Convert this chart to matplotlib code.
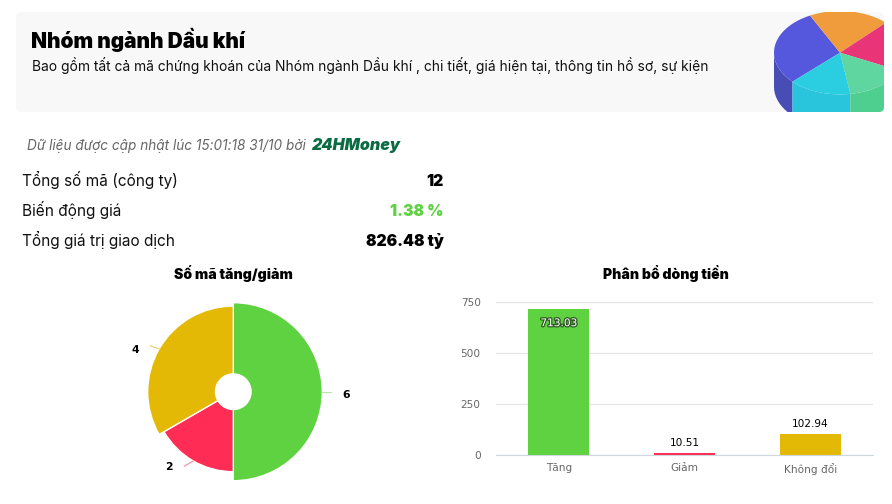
import numpy as np
import matplotlib
matplotlib.use('Agg')
import matplotlib.pyplot as plt
from matplotlib.patches import FancyBboxPatch, Polygon, Wedge, Circle
import matplotlib.patheffects as pe

plt.rcParams['font.family'] = ['Inter', 'Noto Sans', 'DejaVu Sans']

W, H = 892, 504

# stock counts (pie)
pie_labels = ['6', '2', '4']
pie_counts = [6, 2, 4]
pie_radius = [89, 80, 85.6]
pie_colors = ['#5fd242', '#ff2d55', '#e3b905']
pie_hints = ['#b5e8a6', '#f08aa0', '#eacb6a']

# money flow (bars)
bar_cats = ['Tăng', 'Giảm', 'Không đổi']
bar_vals = [713.03, 10.51, 102.94]
bar_colors = ['#5fd242', '#ff2d55', '#e3b905']
y_ticks = [0, 250, 500, 750]

# summary table
rows = ['Tổng số mã (công ty)', 'Biến động giá', 'Tổng giá trị giao dịch']
row_vals = ['12', '1.38 %', '826.48 tỷ']
row_colors = ['black', '#5fd242', 'black']

fig = plt.figure(figsize=(W / 100, H / 100), dpi=100)

# whole figure axes in pixel coords, y going down
bg = fig.add_axes([0, 0, 1, 1])
bg.set_xlim(0, W)
bg.set_ylim(H, 0)
bg.axis('off')

panel = FancyBboxPatch((19, 15), 862, 94, boxstyle='round,pad=3,rounding_size=5', fc='#f8f8f8', ec='none')
bg.add_patch(panel)


def sector(t1, t2, color, drop=0):
    # piece of the header picture: drop=0 is the top face, drop>0 the side wall
    cx, cy, rx, ry = 840, 52.7, 66, 41.7
    t = np.radians(np.linspace(t1, t2, 50))
    x = cx + rx * np.cos(t)
    y = cy + ry * np.sin(t)
    if drop:
        pts = np.r_[np.c_[x, y], np.c_[x, y + drop][::-1]]
    else:
        pts = np.r_[[[cx, cy]], np.c_[x, y]]
    p = Polygon(pts, closed=True, fc=color, ec='none')
    bg.add_patch(p)
    p.set_clip_path(panel)


sector(136, 180, '#474db5', 34)
sector(81, 136, '#29c5dd', 34)
sector(25, 81, '#4fcf8f', 34)
sector(136, 243, '#5558dc')
sector(243, 314, '#f09c3c')
sector(-46, 25.6, '#ea3478')
sector(25.6, 81, '#5fd5a0')
sector(81, 136, '#2bcde0')

bg.text(31, 48, 'Nhóm ngành Dầu khí', fontsize=15, fontweight='black', color='black')
bg.text(32, 71.5, 'Bao gồm tất cả mã chứng khoán của Nhóm ngành Dầu khí , chi tiết, giá hiện tại, thông tin hồ sơ, sự kiện',
        fontsize=9.94, color='#111111')

bg.text(27, 150, 'Dữ liệu được cập nhật lúc 15:01:18 31/10 bởi', fontsize=9.8, style='italic', color='#666666')
bg.text(312, 150, '24HMoney', fontsize=11.5, style='italic', fontweight='black', color='#0b6b43')

for i in range(len(rows)):
    y = 186 + i * 30
    bg.text(22, y, rows[i], fontsize=11.1, color='#111111')
    bg.text(444, y, row_vals[i], fontsize=11.3, fontweight='black', color=row_colors[i], ha='right')

bg.text(233, 279, 'Số mã tăng/giảm', fontsize=10.1, fontweight='black', ha='center')
bg.text(666, 279, 'Phân bổ dòng tiền', fontsize=10.1, fontweight='black', ha='center')

# rose style pie, clockwise from the top
cx, cy = 233.3, 391.7
total = sum(pie_counts)
start = 0
for i in range(len(pie_counts)):
    sweep = 360 * pie_counts[i] / total
    # y axis is flipped so angles increase clockwise, 0 deg is to the right
    w = Wedge((cx, cy), pie_radius[i], start - 90, start + sweep - 90, fc=pie_colors[i], ec='white', lw=1)
    bg.add_patch(w)
    mid = np.radians(start + sweep / 2)
    r = pie_radius[i]
    x0, y0 = cx + r * np.sin(mid), cy - r * np.cos(mid)
    side = np.sign(np.sin(mid))
    bg.plot([x0, x0 + side * 9], [y0, y0 - 6 * np.cos(mid)], color=pie_hints[i], lw=0.8)
    bg.text(x0 + side * 24, y0 + 3 - 4 * np.cos(mid), pie_labels[i], fontsize=7.8, fontweight='bold',
            family='DejaVu Sans', ha='center', va='center')
    start += sweep
bg.add_patch(Circle((cx, cy), 18.5, fc='white', ec='none'))

# bar chart
ax = fig.add_axes([496 / W, 1 - 455.3 / H, 377 / W, 153.6 / H])
ax.patch.set_alpha(0)
ax.bar(bar_cats, bar_vals, width=61 / 125.7, color=bar_colors, zorder=3)
ax.set_xlim(-0.5, 2.5)
ax.set_ylim(0, 750)
ax.set_yticks(y_ticks)
ax.grid(axis='y', color='#e6e6e6', lw=0.9, zorder=0)
ax.set_axisbelow(True)
for s in ['top', 'left', 'right']:
    ax.spines[s].set_visible(False)
ax.spines['bottom'].set_color('#cfd8dc')
ax.spines['bottom'].set_zorder(4)
ax.tick_params(length=0, labelsize=7.6, labelcolor='#666666')
for lab in ax.get_xticklabels() + ax.get_yticklabels():
    lab.set_family('DejaVu Sans')
ax.tick_params(axis='x', pad=5.5)
ax.tick_params(axis='y', pad=11)

for i in range(len(bar_vals)):
    if bar_vals[i] > 300:
        ax.annotate(f'{bar_vals[i]:.2f}', (i, bar_vals[i]), xytext=(0, -10), textcoords='offset points', ha='center',
                    va='center', fontsize=7.6, family='DejaVu Sans', color='white',
                    path_effects=[pe.withStroke(linewidth=1.8, foreground='#2d5a22')])
    else:
        ax.annotate(f'{bar_vals[i]:.2f}', (i, bar_vals[i]), xytext=(0, 4), textcoords='offset points', ha='center',
                    va='bottom', fontsize=7.6, family='DejaVu Sans', color='black')

fig.savefig('out.png', dpi=100)
